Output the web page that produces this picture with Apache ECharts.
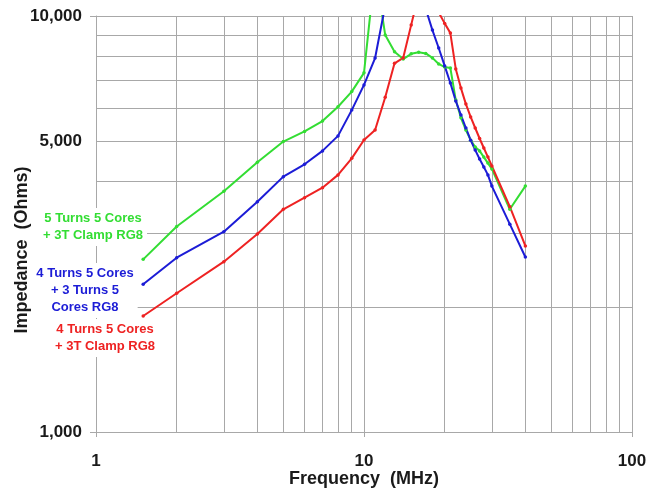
<!DOCTYPE html>
<html>
<head>
<meta charset="utf-8">
<title>Impedance vs Frequency</title>
<script src="https://cdn.jsdelivr.net/npm/echarts@6/dist/echarts.min.js"></script>
<style>
  html, body { margin: 0; padding: 0; background: #fff; }
  #chart { width: 653px; height: 491px; }
</style>
</head>
<body>
<div id="chart"></div>
<script>
// frequency points (MHz)
const freq = [1.5, 2, 3, 4, 5, 6, 7, 8, 9, 10, 11, 12, 13, 14, 15, 16, 17, 18, 19, 20,
  21, 22, 23, 24, 25, 26, 27, 28, 29, 30, 35, 40];

// impedance (Ohms)
const green5T = [2600, 3120, 3790, 4450, 4990, 5280, 5590, 6050, 6580, 7300, 13000, 9000, 8200, 7880, 8110, 8180,
  8130, 7930, 7670, 7540, 7500, 6280, 5690, 5320, 5030, 4840, 4740, 4580, 4430, 4290, 3430, 3900];
const blue4T = [2265, 2624, 3030, 3577, 4110, 4400, 4740, 5150, 5940, 6830, 7925, 10600, 12000, 13000, 13000, 11800,
  10400, 9250, 8375, 7585, 6900, 6250, 5780, 5380, 5030, 4760, 4530, 4335, 4150, 3900, 3160, 2635];
const red4T = [1900, 2155, 2567, 2992, 3430, 3658, 3867, 4150, 4548, 5034, 5321, 6376, 7697, 7930, 9520, 11300,
  12500, 12000, 10200, 9600, 9100, 7460, 6710, 6140, 5720, 5380, 5076, 4816, 4580, 4360, 3480, 2800];

// grid lines / labels
const xMinor = [2, 3, 4, 5, 6, 7, 8, 9, 20, 30, 40, 50, 60, 70, 80, 90];
const yMinor = [2000, 3000, 4000, 5000, 6000, 7000, 8000, 9000];
const yLabelValues = [1000, 5000, 10000];

const seriesNames = ['5 Turns 5 Cores + 3T Clamp RG8', '4 Turns 5 Cores + 3 Turns 5 Cores RG8', '4 Turns 5 Cores + 3T Clamp RG8'];
const colors = ['#33dd33', '#1c1cd6', '#ee2222'];

const font = '"Liberation Sans", Arial, sans-serif';
const gridColor = '#a8a8a8';
const txtColor = '#1a1a1a';

const myChart = echarts.init(document.getElementById('chart'));

function pairs(vals) {
  return freq.map((f, i) => [f, vals[i]]);
}

function lineSeries(name, vals, color) {
  return {
    name: name,
    type: 'line',
    data: pairs(vals),
    symbol: 'circle',
    symbolSize: 3.5,
    showSymbol: true,
    clip: true,
    z: 3,
    lineStyle: { color: color, width: 2 },
    itemStyle: { color: color },
  };
}

// series captions sit on white boxes that hide the grid behind them
function caption(text, x, y, color) {
  return {
    type: 'text', x: x, y: y, z: 2, silent: true,
    style: {
      text: text, fill: color, fontFamily: font, fontWeight: 'bold', fontSize: 13, lineHeight: 17,
      align: 'center', verticalAlign: 'top', backgroundColor: '#fff', padding: [2, 4],
    },
  };
}

const option = {
  backgroundColor: '#fff',
  animation: false,
  grid: { left: 96, right: 21, top: 16, bottom: 59, outerBoundsMode: 'none' },
  xAxis: {
    type: 'log',
    logBase: 10,
    min: 1,
    max: 100,
    name: 'Frequency  (MHz)',
    nameLocation: 'middle',
    nameGap: 38,
    nameMoveOverlap: false,
    nameTextStyle: { fontFamily: font, fontWeight: 'bold', fontSize: 18, color: txtColor },
    axisLine: { show: true, lineStyle: { color: gridColor, width: 1 } },
    axisTick: { show: true, length: 5, lineStyle: { color: gridColor } },
    axisLabel: { margin: 21, fontFamily: font, fontWeight: 'bold', fontSize: 17, color: txtColor },
    splitLine: { show: true, lineStyle: { color: gridColor, width: 1 } },
  },
  yAxis: {
    type: 'log',
    logBase: 10,
    min: 1000,
    max: 10000,
    name: 'Impedance  (Ohms)',
    nameLocation: 'middle',
    nameGap: 65,
    nameMoveOverlap: false,
    nameRotate: 90,
    nameTextStyle: { fontFamily: font, fontWeight: 'bold', fontSize: 18, color: txtColor, padding: [0, 52, 0, 0] },
    axisLine: { show: true, lineStyle: { color: gridColor, width: 1 } },
    axisTick: { show: true, length: 6, lineStyle: { color: gridColor } },
    axisLabel: {
      customValues: yLabelValues,
      margin: 14,
      fontFamily: font, fontWeight: 'bold', fontSize: 17, color: txtColor,
      formatter: v => Number(v).toLocaleString('en-US'),
    },
    splitLine: { show: true, lineStyle: { color: gridColor, width: 1 } },
  },
  graphic: [
    caption('5 Turns 5 Cores\n+ 3T Clamp RG8', 93, 208, colors[0]),
    caption('4 Turns 5 Cores\n+ 3 Turns 5\nCores RG8', 85, 263, colors[1]),
    caption('4 Turns 5 Cores\n+ 3T Clamp RG8', 105, 319, colors[2]),
  ],
  series: [
    {
      // log minor grid lines
      type: 'line',
      data: [],
      silent: true,
      z: 1,
      markLine: {
        silent: true,
        symbol: 'none',
        animation: false,
        z: 1,
        label: { show: false },
        lineStyle: { color: gridColor, width: 1, type: 'solid' },
        data: xMinor.map(v => ({ xAxis: v })).concat(yMinor.map(v => ({ yAxis: v }))),
      },
    },
    lineSeries(seriesNames[0], green5T, colors[0]),
    lineSeries(seriesNames[1], blue4T, colors[1]),
    lineSeries(seriesNames[2], red4T, colors[2]),
  ],
};

myChart.setOption(option);
</script>
</body>
</html>
